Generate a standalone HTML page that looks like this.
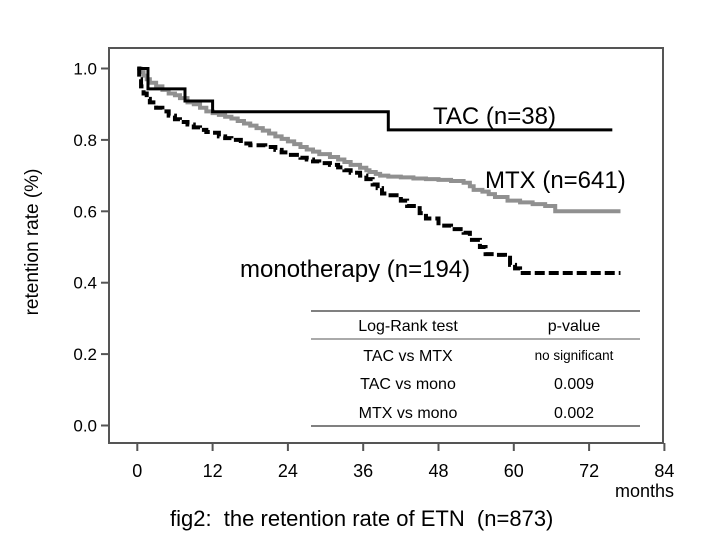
<!DOCTYPE html>
<html><head><meta charset="utf-8"><style>
body{margin:0;background:#fff;}
svg text{font-family:"Liberation Sans",Arial,sans-serif;}
</style></head><body>
<svg id="chart" width="720" height="540" viewBox="0 0 720 540" xmlns="http://www.w3.org/2000/svg">
<rect x="109" y="48" width="554" height="395" fill="none" stroke="#555" stroke-width="2"/>
<g id="xaxis"></g>
<g id="yaxis"></g>
<g id="series"></g>
<text x="674" y="497" font-size="18" text-anchor="end">months</text>
<text transform="translate(38,242) rotate(-90)" font-size="19" text-anchor="middle">retention rate (%)</text>
<text x="433" y="124" font-size="24">TAC (n=38)</text>
<text x="485" y="188" font-size="24">MTX (n=641)</text>
<text x="240" y="277" font-size="24">monotherapy (n=194)</text>
<g font-size="16">
<line x1="311" y1="311" x2="640" y2="311" stroke="#000" stroke-width="1"/>
<line x1="311" y1="339" x2="640" y2="339" stroke="#555" stroke-width="1"/>
<line x1="311" y1="426" x2="640" y2="426" stroke="#000" stroke-width="1"/>
<text x="408" y="331" text-anchor="middle">Log-Rank test</text>
<text x="574" y="331" text-anchor="middle">p-value</text>
<text x="408" y="361" text-anchor="middle">TAC vs MTX</text>
<text x="574" y="360" text-anchor="middle" font-size="13.5">no significant</text>
<text x="408" y="389" text-anchor="middle">TAC vs mono</text>
<text x="574" y="389" text-anchor="middle">0.009</text>
<text x="408" y="418" text-anchor="middle">MTX vs mono</text>
<text x="574" y="418" text-anchor="middle">0.002</text>
</g>
<text x="170" y="526" font-size="22" xml:space="preserve" style="white-space:pre">fig2:  the retention rate of ETN  (n=873)</text>
</svg>
<script>
const xTicks=[0,12,24,36,48,60,72,84];
const yTicks=[0.0,0.2,0.4,0.6,0.8,1.0];
const yTickLabels=["0.0","0.2","0.4","0.6","0.8","1.0"];
const tacT=[0,1.7,7.6,12,40,75.7];
const tacV=[1.0,0.943,0.909,0.879,0.828,0.828];
const mtxT=[0,0.5,1,1.5,2,3,4,5,6,6.8,8,9,10,11,12,13,14,15,16,17,18,19,20,21,22,23,24,25,26,27,28,29,30.7,32,33,34,35.5,36.5,37,38,38.7,40,42,44,46,48,50,52,53,53.6,55,56,57,59,61,63,65,66.6,77];
const mtxV=[1.0,0.99,0.98,0.97,0.96,0.95,0.94,0.93,0.925,0.917,0.905,0.9,0.89,0.88,0.875,0.87,0.865,0.86,0.853,0.846,0.84,0.833,0.826,0.818,0.81,0.803,0.796,0.788,0.78,0.773,0.767,0.76,0.752,0.745,0.738,0.73,0.722,0.715,0.71,0.705,0.70,0.697,0.695,0.692,0.69,0.688,0.685,0.68,0.67,0.66,0.655,0.648,0.64,0.63,0.625,0.62,0.615,0.60,0.60];
const monoT=[0,0.3,0.6,1,1.5,2,3,4,5,6,6.8,8,9,10,11,12,13,14,15,16.5,18,20.4,22,23,24,26,27,28,29,30.7,32,33,34,35.5,36.5,37.5,38.3,39,40,42,43,45,46,48,50,52,53,54.6,55.5,57,58.6,59.4,60.2,61,77];
const monoV=[1.0,0.97,0.95,0.93,0.915,0.905,0.89,0.88,0.868,0.858,0.85,0.843,0.835,0.828,0.822,0.82,0.81,0.805,0.8,0.79,0.785,0.78,0.772,0.765,0.758,0.75,0.745,0.74,0.735,0.73,0.723,0.715,0.708,0.70,0.69,0.675,0.665,0.65,0.645,0.63,0.615,0.595,0.58,0.56,0.55,0.54,0.52,0.50,0.48,0.478,0.47,0.45,0.44,0.427,0.427];
const NS="http://www.w3.org/2000/svg";
function sx(m){return 137.3+m*(75.3/12);}
function sy(v){return 425.5-v*357;}
const xa=document.getElementById('xaxis');
xTicks.forEach(t=>{
 const l=document.createElementNS(NS,'line');
 l.setAttribute('x1',sx(t));l.setAttribute('x2',sx(t));l.setAttribute('y1',443);l.setAttribute('y2',451);
 l.setAttribute('stroke','#555');l.setAttribute('stroke-width','2');
 
 
 xa.appendChild(l);
 const tx=document.createElementNS(NS,'text');
 tx.setAttribute('x',sx(t));tx.setAttribute('y',477);tx.setAttribute('font-size','18');tx.setAttribute('text-anchor','middle');
 tx.textContent=t;
 
 
 xa.appendChild(tx);
});
const ya=document.getElementById('yaxis');
yTicks.forEach((t,i)=>{
 const l=document.createElementNS(NS,'line');
 l.setAttribute('x1',101);l.setAttribute('x2',109);l.setAttribute('y1',sy(t));l.setAttribute('y2',sy(t));
 l.setAttribute('stroke','#555');l.setAttribute('stroke-width','2');
 
 
 ya.appendChild(l);
 const tx=document.createElementNS(NS,'text');
 tx.setAttribute('x',97);tx.setAttribute('y',sy(t)+6);tx.setAttribute('font-size','17');tx.setAttribute('text-anchor','end');
 tx.textContent=yTickLabels[i];
 
 
 ya.appendChild(tx);
});
function stepPath(T,V){
 let d='M'+sx(T[0])+','+sy(V[0]);
 for(let i=1;i<T.length;i++){d+=' H'+sx(T[i])+' V'+sy(V[i]);}
 return d;
}
const sg=document.getElementById('series');
function addSeries(T,V,color,w,dash,name){
 const p=document.createElementNS(NS,'path');
 p.setAttribute('d',stepPath(T,V));p.setAttribute('fill','none');
 p.setAttribute('stroke',color);p.setAttribute('stroke-width',w);
 if(dash)p.setAttribute('stroke-dasharray',dash);
 
 
 sg.appendChild(p);
}
addSeries(mtxT,mtxV,'#909090',4,null,'mtx-curve');
addSeries(monoT,monoV,'#000',4,'10,4','monotherapy-curve');
addSeries(tacT,tacV,'#000',3,null,'tac-curve');
</script>
</body></html>
